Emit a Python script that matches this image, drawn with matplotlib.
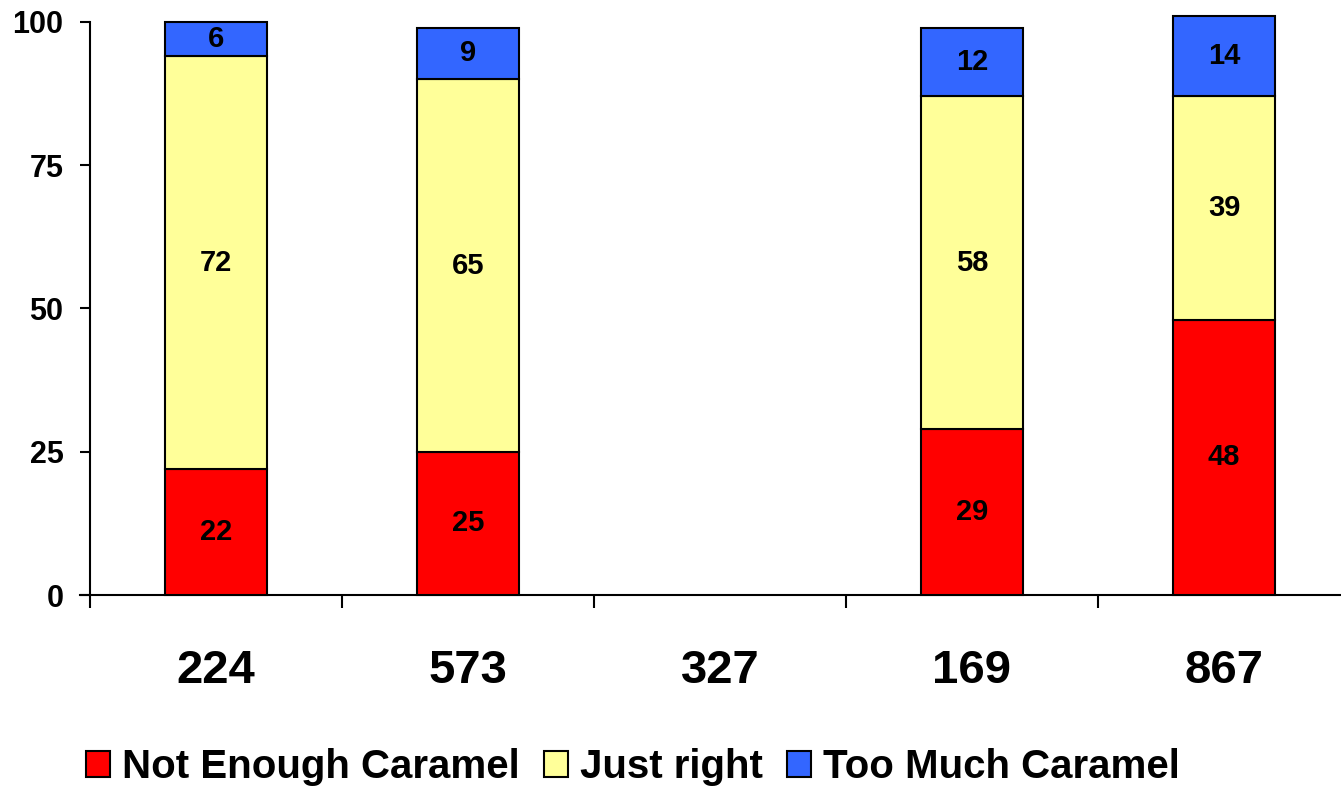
import numpy as np
import matplotlib
matplotlib.use('Agg')
import matplotlib.pyplot as plt

plt.rcParams['font.family'] = ['Liberation Sans', 'DejaVu Sans']
plt.rcParams['font.weight'] = 'bold'

# ── data ──────────────────────────────────────────────────────────────────────
categories   = ['224', '573', '327', '169', '867']
not_enough   = [22, 25, 0, 29, 48]
just_right   = [72, 65, 0, 58, 39]
too_much     = [6, 9, 0, 12, 14]
series_names = ['Not Enough Caramel', 'Just right', 'Too Much Caramel']
colors       = ['#FF0000', '#FFFF99', '#3366FF']

fig = plt.figure(figsize=(13.41, 7.90), dpi=100)
ax = fig.add_axes([0.0671, 0.2468, 0.9396, 0.7254])

x = np.arange(len(categories))
bottom = np.zeros(len(categories))
for vals, name, col in zip([not_enough, just_right, too_much], series_names, colors):
    vals = np.asarray(vals, dtype=float)
    keep = vals > 0   # category 327 has no data -> no bar at all
    ax.bar(x[keep], vals[keep], 0.405, bottom=bottom[keep], color=col,
           edgecolor='black', linewidth=1.5, label=name, clip_on=False, zorder=3)
    for xi, v, b in zip(x[keep], vals[keep], bottom[keep]):
        ax.text(xi, b + v / 2, f'{int(v)}', ha='center', va='center',
                fontsize=21, fontweight='bold', zorder=4)
    bottom += vals

ax.set_xlim(-0.5, len(categories) - 0.5)
ax.set_ylim(0, 100)
ax.set_yticks([0, 25, 50, 75, 100])
ax.tick_params(axis='y', length=7, width=1.5, pad=12, labelsize=22)

ax.set_xticks(np.arange(len(categories) + 1) - 0.5)
ax.set_xticklabels([])
ax.set_xticks(x, minor=True)
ax.set_xticklabels(categories, minor=True, fontsize=34, fontweight='bold')
ax.tick_params(axis='x', which='major', length=9, width=1.5)
ax.tick_params(axis='x', which='minor', length=0, pad=39)

for s in ['top', 'right']:
    ax.spines[s].set_visible(False)
for s in ['left', 'bottom']:
    ax.spines[s].set_linewidth(1.5)
ax.spines['bottom'].set_bounds(-0.5 - 10 / 252, len(categories) - 0.5)

h, l = ax.get_legend_handles_labels()
fig.legend(h, l, loc='center', bbox_to_anchor=(0.472, 0.029), ncol=3,
           frameon=False, fontsize=29, handlelength=0.6, handleheight=0.6,
           handletextpad=0.3, columnspacing=0.6, borderaxespad=0)

fig.savefig('out.png', dpi=100)
